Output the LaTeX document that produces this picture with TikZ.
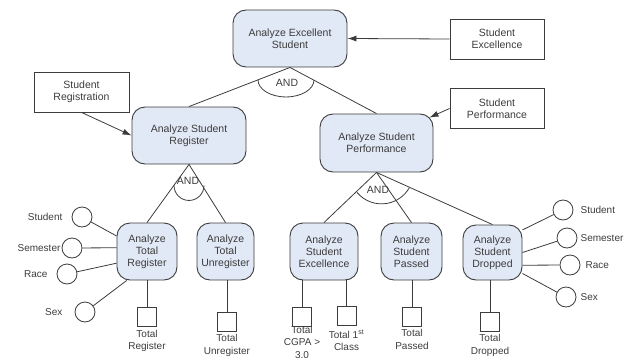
\documentclass[tikz,border=0pt]{standalone}
\usepackage{fontspec}
\setmainfont{Liberation Sans}
\usetikzlibrary{calc,positioning,arrows.meta}
\definecolor{boxfill}{RGB}{226,233,246}
\definecolor{ink}{RGB}{60,60,60}

\begin{document}
\begin{tikzpicture}[x=1pt,y=-1pt,
  every node/.style={text=ink,font=\fontsize{10.5}{12}\selectfont},
  goal/.style={draw=ink,line width=0.9pt,fill=boxfill,rounded corners=13pt,align=center,inner sep=0pt},
  info/.style={draw=ink,line width=0.8pt,align=center,minimum width=94pt,minimum height=40pt,inner sep=0pt},
  leaf/.style={draw=ink,line width=0.8pt,minimum size=19pt,inner sep=0pt},
  attr/.style={draw=ink,line width=0.8pt,circle,minimum size=20pt,inner sep=0pt},
  leaftext/.style={align=center,inner sep=0pt,font=\fontsize{10}{12.5}\selectfont},
  attrtext/.style={inner sep=0pt,font=\fontsize{10}{12}\selectfont},
  link/.style={draw=ink,line width=0.8pt},
  feed/.style={link,-{Latex[length=9pt,width=6pt]}}
]
\useasboundingbox (0,0) rectangle (626,361);

\node[goal,minimum width=114pt,minimum height=57pt] (exc) at (290,38.5) {Analyze Excellent\\Student};
\node[goal,minimum width=114pt,minimum height=57pt] (reg) at (189,135.5) {Analyze Student\\Register};
\node[goal,minimum width=113pt,minimum height=58pt] (perf) at (376.5,143) {Analyze Student\\Performance};

\node[info] (bexc) at (497,39) {Student\\Excellence};
\node[info] (bperf) at (497,108.5) {Student\\Performance};
\node[info,minimum width=95pt] (breg) at (81.5,92) {Student\\Registration};

\node[goal,minimum width=60pt,minimum height=57pt] (treg) at (147,251.5) {Analyze\\Total\\Register};
\node[goal,minimum width=57pt,minimum height=57pt] (tunreg) at (225.5,251.5) {Analyze\\Total\\Unregister};
\node[goal,minimum width=68pt,minimum height=57pt] (sexc) at (324,251.5) {Analyze\\Student\\Excellence};
\node[goal,minimum width=61pt,minimum height=57pt] (spass) at (411.5,251.5) {Analyze\\Student\\Passed};
\node[goal,minimum width=59pt,minimum height=55pt] (sdrop) at (492.5,252.5) {Analyze\\Student\\Dropped};

\draw[feed] (bexc.west) -- (exc.east);
\draw[feed] (bperf.west) -- ($(perf.north east)+(-4,4)$);
\draw[feed] (breg.south) -- (reg.west);

\draw[link] (exc.south) -- (reg.north);
\draw[link] (exc.south) -- (perf.north);
\draw[link] ($(exc.south)+(-32,12.5)$) arc[start angle=180,end angle=360,x radius=28pt,y radius=17pt];
\node (and1) at (287,83) {AND};

\draw[link] (reg.south) -- (treg.north);
\draw[link] (reg.south) -- (tunreg.north);
\draw[link] ($(reg.south)+(-15,21)$) arc[start angle=180,end angle=360,radius=15pt];
\node (and2) at (188,181) {AND};

\draw[link] (perf.south) -- (sexc.north);
\draw[link] (perf.south) -- (spass.north);
\draw[link] (perf.south) -- (sdrop.north);
\draw[link] ($(perf.south)+(-19.5,20)$) arc[start angle=220,end angle=330,radius=32pt];
\node (and3) at (378,190) {AND};

\node[leaf] (sqreg) at (147,317) {};
\node[leaf] (squnreg) at (227,321.5) {};
\node[leaf] (sqcgpa) at (302,317) {};
\node[leaf] (sqfirst) at (346.5,316) {};
\node[leaf] (sqpass) at (412,316.5) {};
\node[leaf] (sqdrop) at (490,321.5) {};

\draw[link] (sqreg.north) -- (sqreg.north |- treg.south);
\draw[link] (squnreg.north) -- (squnreg.north |- tunreg.south);
\draw[link] (sqcgpa.north) -- (sqcgpa.north |- sexc.south);
\draw[link] (sqfirst.north) -- (sqfirst.north |- sexc.south);
\draw[link] (sqpass.north) -- (sqpass.north |- spass.south);
\draw[link] (sqdrop.north) -- (sqdrop.north |- sdrop.south);

\node[leaftext,below=3pt of sqreg] (sqregt) {Total\\Register};
\node[leaftext,below=3pt of squnreg] (squnregt) {Total\\Unregister};
\node[leaftext,below=-1pt of sqcgpa] (sqcgpat) {Total\\CGPA >\\3.0};
\node[leaftext,below=4pt of sqfirst] (sqfirstt) {Total 1\textsuperscript{st}\\Class};
\node[leaftext,below=3pt of sqpass] (sqpasst) {Total\\Passed};
\node[leaftext,below=3pt of sqdrop] (sqdropt) {Total\\Dropped};

\node[attr] (lstu) at (82,217) {};
\node[attr] (lsem) at (72,248) {};
\node[attr] (lrace) at (67,274) {};
\node[attr] (lsex) at (85,312) {};
\node[attrtext,left=9pt of lstu] (lstut) {Student};
\node[attrtext,left=1pt of lsem] (lsemt) {Semester};
\node[attrtext,left=9pt of lrace] (lracet) {Race};
\node[attrtext,left=12pt of lsex] (lsext) {Sex};
\draw[link] (lstu) -- (treg.153);
\draw[link] (lsem) -- (treg.173);
\draw[link] (lrace) -- (treg.201);
\draw[link] (lsex) -- (treg.235);

\node[attr] (rstu) at (563,210) {};
\node[attr] (rsem) at (567,238) {};
\node[attr] (rrace) at (570,265) {};
\node[attr] (rsex) at (566,297) {};
\node[attrtext,right=7pt of rstu] (rstut) {Student};
\node[attrtext,right=3pt of rsem] (rsemt) {Semester};
\node[attrtext,right=5pt of rrace] (rracet) {Race};
\node[attrtext,right=4pt of rsex] (rsext) {Sex};
\draw[link] (sdrop.37) -- (rstu);
\draw[link] (sdrop.0) -- (rsem);
\draw[link] (sdrop.-23) -- (rrace);
\draw[link] (sdrop.-35) -- (rsex);
\end{tikzpicture}
\end{document}
